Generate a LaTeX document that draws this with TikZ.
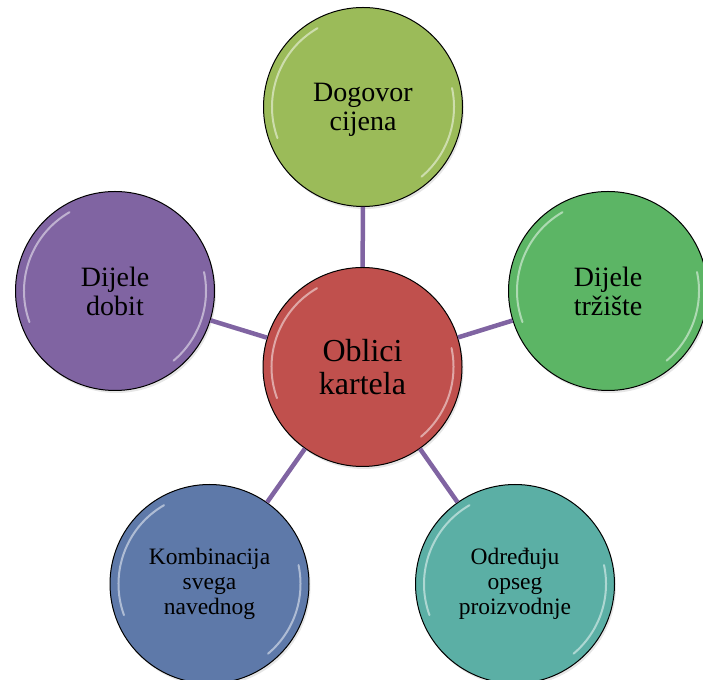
\documentclass[tikz,border=0pt]{standalone}
\usepackage{fontspec}
\setmainfont{Liberation Serif}
\usetikzlibrary{shadows}
\definecolor{kartelred}{HTML}{C0504D}
\definecolor{cijenagreen}{HTML}{9BBB59}
\definecolor{trzistegreen}{HTML}{5CB565}
\definecolor{dobitpurple}{HTML}{8064A2}
\definecolor{svegablue}{HTML}{5E79A9}
\definecolor{opsegteal}{HTML}{5BAFA5}
\definecolor{linkpurple}{HTML}{8064A2}
\begin{document}
\begin{tikzpicture}[
  x=1pt,
  y=1pt,
  bubble/.style={
    circle,
    draw=black,
    line width=1pt,
    minimum size=199pt,
    inner sep=0pt,
    align=center,
    font=\fontsize{28}{29}\selectfont,
    drop shadow={opacity=0.2,shadow xshift=1.5pt,shadow yshift=-2.5pt},
    path picture={
      \draw[white,opacity=0.5,line width=2pt,line cap=round]
        ([shift={(120:91)}]path picture bounding box.center)
        arc[start angle=120,end angle=200,radius=91];
      \draw[white,opacity=0.5,line width=2pt,line cap=round]
        ([shift={(12:91)}]path picture bounding box.center)
        arc[start angle=12,end angle=-50,radius=91];
    }
  },
  smalltext/.style={font=\fontsize{23.5}{25}\selectfont},
  link/.style={draw=linkpurple,line width=4.5pt}
]
\useasboundingbox (0,0) rectangle (703,679);
\node[bubble, fill=kartelred, font=\fontsize{32}{33}\selectfont] (kartel) at (362.5,312) {Oblici\\kartela};
\node[bubble, fill=cijenagreen, text depth=0pt] (cijena) at (363,572) {Dogovor\\cijena};
\node[bubble, fill=trzistegreen] (trziste) at (608,388) {Dijele\\tržište};
\node[bubble, fill=dobitpurple] (dobit) at (115,388) {Dijele\\dobit};
\node[bubble, fill=svegablue, smalltext] (svega) at (209.5,95) {Kombinacija\\svega\\navednog};
\node[bubble, fill=opsegteal, smalltext] (opseg) at (515,95) {Određuju\\opseg\\proizvodnje};
\draw[link] (kartel) -- (cijena);
\draw[link] (kartel) -- (trziste);
\draw[link] (kartel) -- (dobit);
\draw[link] (kartel) -- (svega);
\draw[link] (kartel) -- (opseg);
\end{tikzpicture}
\end{document}
